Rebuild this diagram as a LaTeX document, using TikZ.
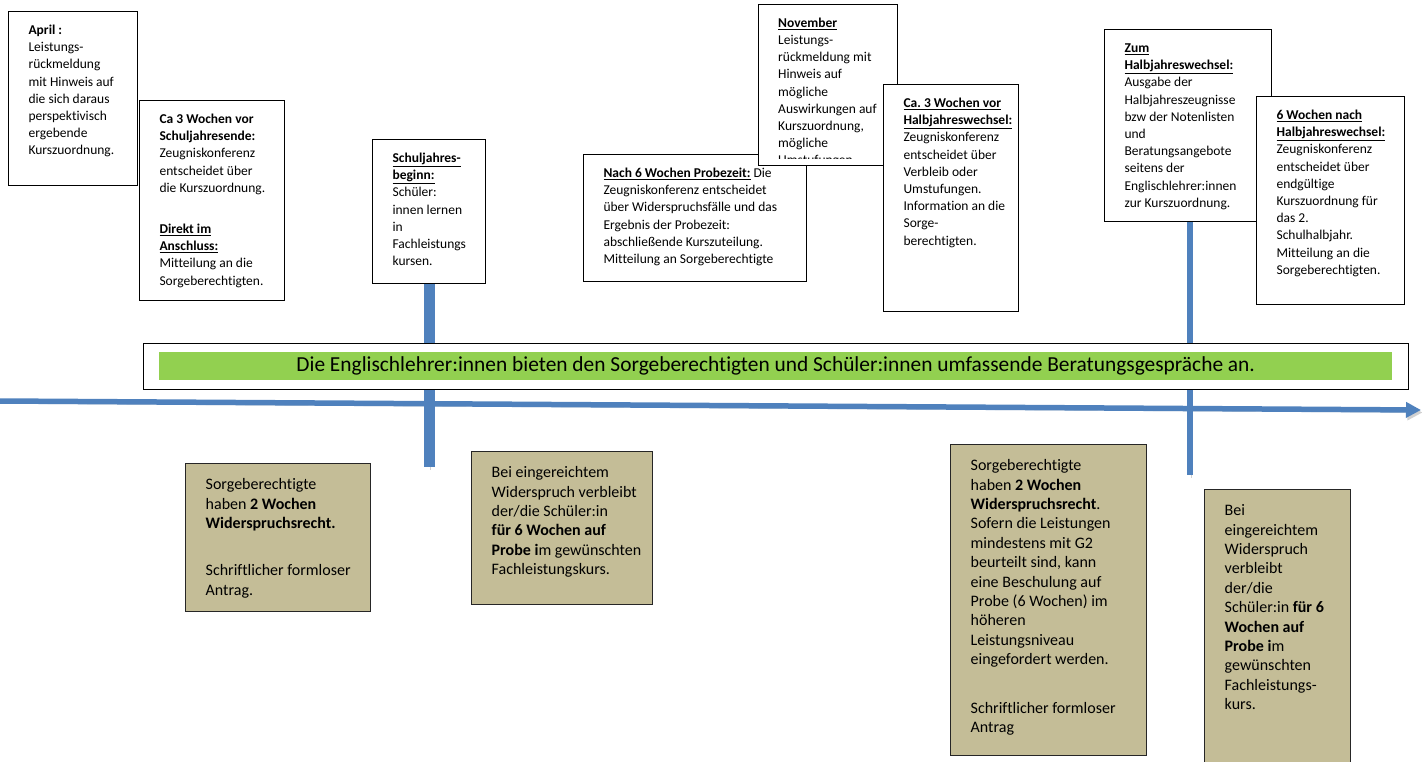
\documentclass[tikz,border=0pt]{standalone}
\usepackage{fontspec}
\setmainfont{Carlito}[Ligatures=NoCommon]
\usetikzlibrary{arrows.meta}
\frenchspacing

\definecolor{beratung}{RGB}{146,208,80}
\definecolor{antrag}{RGB}{196,189,151}
\definecolor{zeitachse}{RGB}{79,129,189}

% text block inside a box: width, height, top gap, lines
\newcommand{\cardtext}[4]{\parbox[t][#2][t]{#1}{\raggedright\leftskip=20pt\relax\vspace*{#3}\strut #4}}
\newcommand{\kopf}[1]{\underline{\textbf{#1}}}

\tikzset{
  termin/.style={draw, line width=1.1pt, fill=white, anchor=north west, inner sep=0pt,
    font=\fontsize{13.5}{17.2}\selectfont},
  antragbox/.style={draw=black!85, line width=1.4pt, fill=antrag, anchor=north west, inner sep=0pt,
    font=\fontsize{16}{19.4}\selectfont},
  zeitlinie/.style={draw=zeitachse, line width=5.5pt,
    preaction={draw=black!18, transform canvas={xshift=1.5pt, yshift=-2.5pt}}},
}

\begin{document}
\begin{tikzpicture}[x=1pt, y=-1pt]
  \useasboundingbox (0,0) rectangle (1422,761);

  % Termine oben
  \node[termin] (april) at (8,11) {\cardtext{129pt}{174pt}{11pt}{%
    \textbf{April :}\\ Leistungs-\\ rückmeldung\\ mit Hinweis auf\\ die sich daraus\\
    perspektivisch\\ ergebende\\ Kurszuordnung.}};
  \node[termin] (vorende) at (139,100) {\cardtext{145pt}{200pt}{11pt}{%
    \textbf{Ca 3 Wochen vor}\\ \textbf{Schuljahresende:}\\ Zeugniskonferenz\\ entscheidet über\\
    die Kurszuordnung.\\[24pt] \kopf{Direkt im}\\ \kopf{Anschluss:}\\ Mitteilung an die\\
    Sorgeberechtigten.}};
  \node[termin] (sjbeginn) at (372,139) {\cardtext{113pt}{144pt}{11pt}{%
    \kopf{Schuljahres-}\\ \kopf{beginn:}\\ Schüler:\\ innen lernen\\ in\\ Fachleistungs\\ kursen.}};
  \node[termin] (probezeit) at (583,154) {\cardtext{223pt}{127pt}{11pt}{%
    \kopf{Nach 6 Wochen Probezeit:} Die\\ Zeugniskonferenz entscheidet\\
    über Widerspruchsfälle und das\\ Ergebnis der Probezeit:\\ abschließende Kurszuteilung.\\
    Mitteilung an Sorgeberechtigte}};
  \node[termin] (november) at (758,4) {\cardtext{139pt}{161pt}{0pt}{}};
  \begin{scope}
    \clip (758,4) rectangle (897,158.5);
    \node[anchor=north west, inner sep=0pt, font=\fontsize{13.5}{17.2}\selectfont]
      (novtext) at (758,4) {\cardtext{139pt}{161pt}{11pt}{%
      \kopf{November}\\ Leistungs-\\ rückmeldung mit\\ Hinweis auf\\ mögliche\\
      Auswirkungen auf\\ Kurszuordnung,\\ mögliche\\ Umstufungen}};
  \end{scope}
  \node[termin] (vorhalb) at (883,84) {\cardtext{135pt}{227pt}{11pt}{%
    \kopf{Ca. 3 Wochen vor}\\ \kopf{Halbjahreswechsel:}\\ Zeugniskonferenz\\ entscheidet über\\
    Verbleib oder\\ Umstufungen.\\ Information an die\\ Sorge-\\ berechtigten.}};
  \node[termin] (halbjahr) at (1104,29) {\cardtext{167pt}{192pt}{11pt}{%
    \kopf{Zum}\\ \kopf{Halbjahreswechsel:}\\ Ausgabe der\\ Halbjahreszeugnisse\\
    bzw der Notenlisten\\ und\\ Beratungsangebote\\ seitens der\\ Englischlehrer:innen\\
    zur Kurszuordnung.}};
  \node[termin] (nachhalb) at (1256,96) {\cardtext{148pt}{208pt}{11pt}{%
    \kopf{6 Wochen nach}\\ \kopf{Halbjahreswechsel:}\\ Zeugniskonferenz\\ entscheidet über\\
    endgültige\\ Kurszuordnung für\\ das 2.\\ Schulhalbjahr.\\ Mitteilung an die\\
    Sorgeberechtigten.}};

  % Zeitachse
  \coordinate (start) at (0,401);
  \coordinate (ende) at (1421,410);
  \coordinate (tick1) at (429,467);
  \coordinate (tick2) at (1190,475);
  \draw[zeitlinie, -{Triangle[length=15pt, width=15pt]}] (start) -- (ende);
  \draw[zeitlinie, line width=11pt] (sjbeginn.south -| tick1) -- (tick1);
  \draw[zeitlinie, line width=6pt] (halbjahr.south -| tick2) -- (tick2);

  % Beratung
  \node[draw, line width=1.1pt, fill=white, anchor=north west, inner sep=0pt,
    minimum width=1265pt, minimum height=46pt] (banner) at (143,343) {};
  \node[fill=beratung, anchor=north west, inner sep=0pt, minimum width=1233pt,
    minimum height=28pt, font=\fontsize{21.4}{24}\selectfont] (advice) at (159,352)
    {Die Englischlehrer:innen bieten den Sorgeberechtigten und Schüler:innen umfassende Beratungsgespräche an.};

  % Widerspruch unten
  \node[antragbox] (wider1) at (185,463) {\cardtext{185pt}{148pt}{12.4pt}{%
    Sorgeberechtigte\\ haben \textbf{2 Wochen}\\ \textbf{Widerspruchsrecht.}\\[28pt]
    Schriftlicher formloser\\ Antrag.}};
  \node[antragbox] (probe1) at (471,451) {\cardtext{181pt}{153pt}{12.4pt}{%
    Bei eingereichtem\\ Widerspruch verbleibt\\ der/die Schüler:in\\
    \textbf{für 6 Wochen auf}\\ \textbf{Probe i}m gewünschten\\ Fachleistungskurs.}};
  \node[antragbox] (wider2) at (950,444) {\cardtext{196pt}{311pt}{12.4pt}{%
    Sorgeberechtigte\\ haben \textbf{2 Wochen}\\ \textbf{Widerspruchsrecht}.\\
    Sofern die Leistungen\\ mindestens mit G2\\ beurteilt sind, kann\\ eine Beschulung auf\\
    Probe (6 Wochen) im\\ höheren\\ Leistungsniveau\\ eingefordert werden.\\[29pt]
    Schriftlicher formloser\\ Antrag}};
  \node[antragbox] (probe2) at (1204,489) {\cardtext{146pt}{290pt}{12.4pt}{%
    Bei\\ eingereichtem\\ Widerspruch\\ verbleibt\\ der/die\\ Schüler:in \textbf{für 6}\\
    \textbf{Wochen auf}\\ \textbf{Probe i}m\\ gewünschten\\ Fachleistungs-\\ kurs.}};
\end{tikzpicture}
\end{document}
